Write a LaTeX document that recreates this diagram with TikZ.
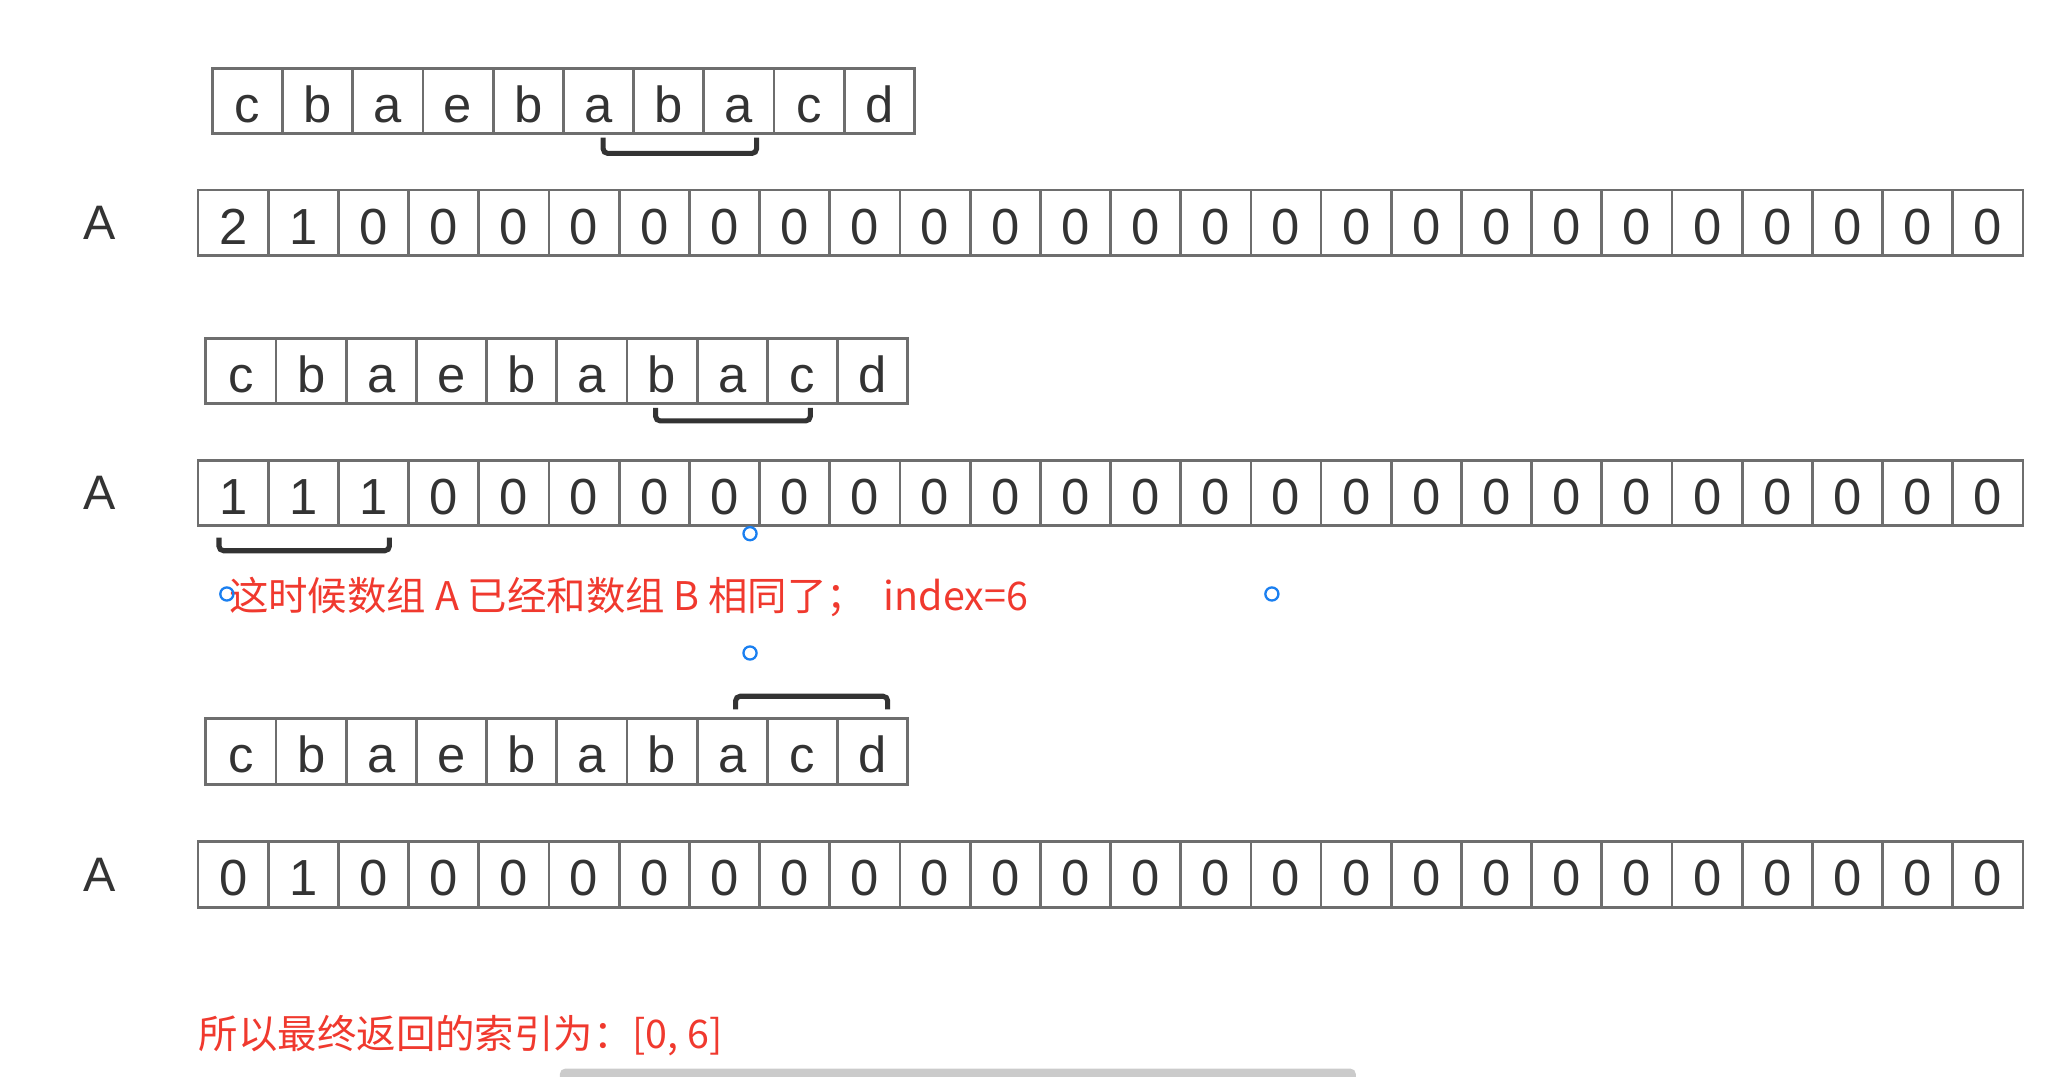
\documentclass[tikz,border=0pt]{standalone}
\usepackage{fontspec}
\setmainfont{Liberation Sans}
\newfontfamily\cjkfont{Noto Sans CJK SC}
\usepackage{tikz}
\usetikzlibrary{positioning, calc}
\definecolor{cellgray}{HTML}{6E6E6E}
\definecolor{inkdark}{HTML}{333333}
\definecolor{notered}{HTML}{F0392E}
\definecolor{handleblue}{HTML}{1A7FF0}
\definecolor{bargray}{HTML}{CBCBCB}

\begin{document}
\begin{tikzpicture}[x=0.01cm,y=-0.01cm,
	cell/.style={draw=cellgray,line width=0.6pt,minimum width=0.535cm,minimum height=0.5cm,
		inner sep=0pt,outer sep=0pt,text height=9.2pt,text depth=0pt,text=inkdark,
		font=\fontsize{11}{13}\selectfont},
	row label/.style={text=inkdark,inner sep=0pt,font=\fontsize{10.5}{12}\selectfont},
	bracket/.style={draw=inkdark,line width=1.1pt,rounded corners=1pt},
	note/.style={text=notered,inner sep=0pt,anchor=west,font=\cjkfont\fontsize{8.55}{10}\selectfont},
	handle/.style={draw=handleblue,line width=0.5pt}]
	
	\useasboundingbox (0,0) rectangle (1568,821);
	
	% first step
	\node[cell] (s1-1) at (188.75,77) {c};
	\foreach \v [count=\i from 2, remember=\i as \j (initially 1)] in {b,a,e,b,a,b,a,c,d}
		\node[cell, right=0pt of s1-\j] (s1-\i) {\v};
	\node[cell] (a1-1) at (177.8,170) {2};
	\foreach \v [count=\i from 2, remember=\i as \j (initially 1)] in {1,0,0,0,0,0,0,0,0,0,0,0,0,0,0,0,0,0,0,0,0,0,0,0,0}
		\node[cell, right=0pt of a1-\j] (a1-\i) {\v};
	\node[row label, left=0.62cm of a1-1] (A1) {A};
	\draw[bracket] (460,105) -- (460,117) -- (577,117) -- (577,105);
	
	% second step
	\node[cell] (s2-1) at (183.75,283) {c};
	\foreach \v [count=\i from 2, remember=\i as \j (initially 1)] in {b,a,e,b,a,b,a,c,d}
		\node[cell, right=0pt of s2-\j] (s2-\i) {\v};
	\node[cell] (a2-1) at (177.8,376) {1};
	\foreach \v [count=\i from 2, remember=\i as \j (initially 1)] in {1,1,0,0,0,0,0,0,0,0,0,0,0,0,0,0,0,0,0,0,0,0,0,0,0}
		\node[cell, right=0pt of a2-\j] (a2-\i) {\v};
	\node[row label, left=0.62cm of a2-1] (A2) {A};
	\draw[bracket] (500,311) -- (500,321) -- (618,321) -- (618,311);
	\draw[bracket] (167,410) -- (167,420) -- (297,420) -- (297,410);
	
	\node[note] (match) at (174,455) {这时候数组 A 已经和数组 B 相同了；\ \ index=6};
	\draw[handle] (572,407) circle (0.05cm);
	\draw[handle] (173,453) circle (0.05cm);
	\draw[handle] (970,453) circle (0.05cm);
	\draw[handle] (572,498) circle (0.05cm);
	
	% third step
	\draw[bracket] (561,541) -- (561,531) -- (677,531) -- (677,541);
	\node[cell] (s3-1) at (183.75,573) {c};
	\foreach \v [count=\i from 2, remember=\i as \j (initially 1)] in {b,a,e,b,a,b,a,c,d}
		\node[cell, right=0pt of s3-\j] (s3-\i) {\v};
	\node[cell] (a3-1) at (177.8,667) {0};
	\foreach \v [count=\i from 2, remember=\i as \j (initially 1)] in {1,0,0,0,0,0,0,0,0,0,0,0,0,0,0,0,0,0,0,0,0,0,0,0,0}
		\node[cell, right=0pt of a3-\j] (a3-\i) {\v};
	\node[row label, left=0.62cm of a3-1] (A3) {A};
	
	\node[note] (result) at (151,790) {所以最终返回的索引为：[0, 6]};
	\fill[bargray, rounded corners=0.04cm] (427,815) rectangle (1034,835);
\end{tikzpicture}
\end{document}
